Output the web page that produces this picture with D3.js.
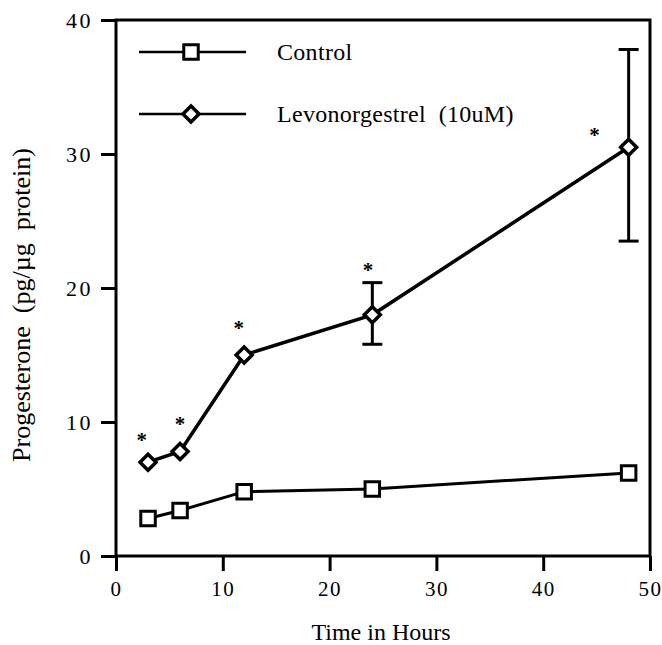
<!DOCTYPE html>
<html>
<head>
<meta charset="utf-8">
<script src="https://cdn.jsdelivr.net/npm/d3@7"></script>
<style>
  body { margin: 0; background: #fff; }
  text { font-family: "Liberation Serif", "Times New Roman", serif; fill: #000; }
</style>
</head>
<body>
<div id="wrapper"></div>
<script>
// data
const hours = [3, 6, 12, 24, 48];
const control = [2.8, 3.4, 4.8, 5.0, 6.2];
const levonorgestrel = [7.0, 7.8, 15.0, 18.0, 30.5];
const levoErrLow = [null, null, null, 15.8, 23.5];
const levoErrHigh = [null, null, null, 20.4, 37.8];
// asterisk marks (hours, value)
const starX = [2.4, 6.0, 11.5, 23.6, 44.8];
const starY = [9.1, 10.3, 17.5, 21.8, 31.9];
const xTicks = [0, 10, 20, 30, 40, 50];
const yTicks = [0, 10, 20, 30, 40];
const seriesNames = ["Control", "Levonorgestrel  (10uM)"];

function drawChart() {
    let dimensions = {
        width: 662,
        height: 645,
        margin: { top: 20, right: 12, bottom: 89, left: 116 }
    };
    dimensions.boundedWidth = dimensions.width - dimensions.margin.left - dimensions.margin.right;
    dimensions.boundedHeight = dimensions.height - dimensions.margin.top - dimensions.margin.bottom;

    const svg = d3.select("#wrapper").append("svg")
        .attr("width", dimensions.width)
        .attr("height", dimensions.height);
    const bounds = svg.append("g")
        .attr("transform", `translate(${dimensions.margin.left},${dimensions.margin.top})`);

    const xScale = d3.scaleLinear().domain([0, 50]).range([0, dimensions.boundedWidth]);
    const yScale = d3.scaleLinear().domain([0, 40]).range([dimensions.boundedHeight, 0]);

    // frame
    bounds.append("rect")
        .attr("width", dimensions.boundedWidth)
        .attr("height", dimensions.boundedHeight)
        .attr("fill", "none")
        .attr("stroke", "#000")
        .attr("stroke-width", 3);

    // axes
    const xAxis = bounds.append("g")
        .attr("transform", `translate(0,${dimensions.boundedHeight})`)
        .call(d3.axisBottom(xScale).tickValues(xTicks).tickSize(15).tickPadding(10));
    const yAxis = bounds.append("g")
        .call(d3.axisLeft(yScale).tickValues(yTicks).tickSize(15).tickPadding(8));
    [xAxis, yAxis].forEach(ax => {
        ax.select(".domain").remove();
        ax.selectAll(".tick line").attr("stroke", "#000").attr("stroke-width", 3);
        ax.selectAll(".tick text")
            .attr("font-family", "Liberation Serif, serif")
            .attr("font-size", 22)
            .attr("letter-spacing", 2.5)
            .attr("fill", "#000");
    });
    xAxis.selectAll(".tick text").attr("font-size", 21).attr("letter-spacing", 1.5);
    yAxis.selectAll(".tick text").attr("dy", "0.33em");

    // axis labels
    svg.append("text")
        .attr("x", 381)
        .attr("y", 640)
        .attr("text-anchor", "middle")
        .attr("font-size", 24)
        .text("Time in Hours");
    svg.append("text")
        .attr("transform", "translate(30,305) rotate(-90)")
        .attr("text-anchor", "middle")
        .attr("font-size", 26)
        .attr("xml:space", "preserve")
        .style("white-space", "pre")
        .text("Progesterone  (pg/\u00b5g  protein)");

    const line = d3.line()
        .x(d => xScale(d[0]))
        .y(d => yScale(d[1]));

    const controlData = hours.map((h, i) => [h, control[i]]);
    const levoData = hours.map((h, i) => [h, levonorgestrel[i]]);

    // error bars
    const errData = hours.map((h, i) => ({ h, lo: levoErrLow[i], hi: levoErrHigh[i], v: levonorgestrel[i] }))
        .filter(d => d.lo !== null);
    const errG = bounds.append("g").attr("stroke", "#000").attr("stroke-width", 3);
    errData.forEach(d => {
        const x = xScale(d.h);
        errG.append("line").attr("x1", x).attr("x2", x).attr("y1", yScale(d.lo)).attr("y2", yScale(d.hi));
        errG.append("line").attr("x1", x - 10).attr("x2", x + 10).attr("y1", yScale(d.lo)).attr("y2", yScale(d.lo));
        errG.append("line").attr("x1", x - 10).attr("x2", x + 10).attr("y1", yScale(d.hi)).attr("y2", yScale(d.hi));
    });

    bounds.append("path")
        .datum(controlData)
        .attr("d", line)
        .attr("fill", "none")
        .attr("stroke", "#000")
        .attr("stroke-width", 3);
    bounds.append("path")
        .datum(levoData)
        .attr("d", line)
        .attr("fill", "none")
        .attr("stroke", "#000")
        .attr("stroke-width", 3.5);

    const square = d3.symbol().type(d3.symbolSquare).size(210);
    const diamond = "M0,-8L8,0L0,8L-8,0Z";

    bounds.selectAll(".ctrl")
        .data(controlData)
        .join("path")
        .attr("class", "ctrl")
        .attr("transform", d => `translate(${xScale(d[0])},${yScale(d[1])})`)
        .attr("d", square)
        .attr("fill", "#fff")
        .attr("stroke", "#000")
        .attr("stroke-width", 3);
    bounds.selectAll(".levo")
        .data(levoData)
        .join("path")
        .attr("class", "levo")
        .attr("transform", d => `translate(${xScale(d[0])},${yScale(d[1])})`)
        .attr("d", diamond)
        .attr("fill", "#fff")
        .attr("stroke", "#000")
        .attr("stroke-width", 3.5);

    // asterisks
    bounds.selectAll(".star")
        .data(starX.map((x, i) => [x, starY[i]]))
        .join("text")
        .attr("class", "star")
        .attr("x", d => xScale(d[0]))
        .attr("y", d => yScale(d[1]))
        .attr("dy", "0.62em")
        .attr("text-anchor", "middle")
        .attr("font-family", "DejaVu Sans, sans-serif")
        .attr("font-weight", "bold")
        .attr("font-size", 21)
        .text("*");

    // legend
    const legend = svg.append("g");
    const rows = [
        { y: 52, symbol: square, name: seriesNames[0], sw: 3 },
        { y: 114, symbol: diamond, name: seriesNames[1], sw: 3.5 }
    ];
    rows.forEach(r => {
        legend.append("line")
            .attr("x1", 139).attr("x2", 246)
            .attr("y1", r.y).attr("y2", r.y)
            .attr("stroke", "#000").attr("stroke-width", 2.5);
        legend.append("path")
            .attr("transform", `translate(191,${r.y})`)
            .attr("d", r.symbol)
            .attr("fill", "#fff")
            .attr("stroke", "#000")
            .attr("stroke-width", r.sw);
        legend.append("text")
            .attr("x", 277)
            .attr("y", r.y)
            .attr("dy", "0.33em")
            .attr("font-size", 24)
            .attr("letter-spacing", 0.3)
            .attr("xml:space", "preserve")
            .style("white-space", "pre")
            .text(r.name);
    });
}

drawChart();
</script>
</body>
</html>
